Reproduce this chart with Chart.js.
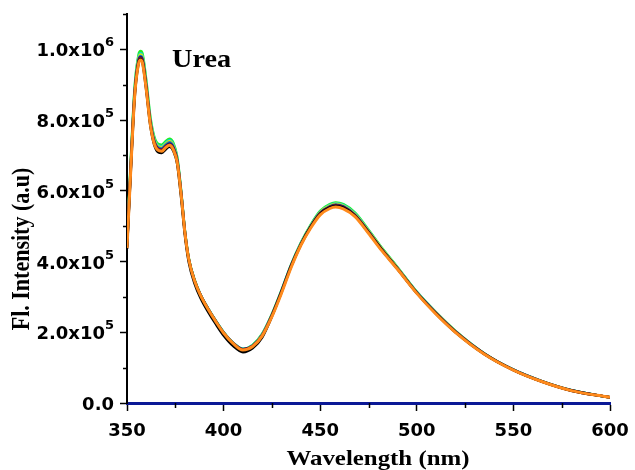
<!DOCTYPE html>
<html>
<head>
<meta charset="utf-8">
<script src="https://cdn.jsdelivr.net/npm/chart.js@4"></script>
<style>
  html, body { margin: 0; padding: 0; background: #ffffff; }
  #wrap { width: 635px; height: 470px; }
</style>
</head>
<body>
<div id="wrap"><canvas id="c" width="635" height="470"></canvas></div>
<script>
// Emission wavelengths (nm)
const wavelengths = [350,352,354,356,357,358,360,362,364,366,
                     368,370,372,374,376,378,380,382,385,388,
                     392,396,400,405,410,415,420,425,430,435,
                     440,445,450,455,458,462,468,475,482,490,
                     500,510,520,535,550,565,580,600];

// Fluorescence intensity of each run, in thousands of counts
const limeRun   = [450,690,895,985,995,988,910,812,755,733, 730,740,747,735,695,600,485,408,348,307, 267,232,200,170,153,164,196,251,319,392, 453,503,543,562,567,562,538,490,438,384, 314,256,204,140,94,61,36,16];
const cyanRun   = [447,684,889,979,989,982,904,806,750,729, 726,736,743,731,691,597,484,407,347,307, 267,232,200,170,153,163,195,250,318,391, 452,501,541,560,565,560,536,488,437,383, 314,255,203,140,94,61,36,16];
const yellowRun = [445,680,885,975,985,978,900,803,747,726, 723,733,740,728,689,596,483,407,347,306, 266,231,199,169,152,162,194,250,317,390, 451,500,540,558,563,558,534,487,436,382, 313,255,203,139,94,61,36,16];
const blueRun   = [443,676,881,971,981,974,896,800,744,723, 720,730,737,725,687,595,482,406,346,306, 266,231,199,169,152,162,193,249,317,390, 450,499,538,556,561,556,532,485,434,381, 312,254,202,139,94,61,36,16];
const navyRun   = [442,673,878,968,978,971,893,797,741,720, 717,727,734,722,685,594,482,406,346,306, 266,231,199,169,152,161,192,248,316,389, 449,498,537,555,560,555,531,484,433,380, 312,254,202,139,94,61,36,16];
const maroonRun = [440,670,875,966,975,968,890,794,738,718, 715,725,731,719,683,592,481,405,345,305, 265,230,198,168,151,161,191,247,315,388, 448,497,536,554,558,553,530,483,433,380, 311,253,201,139,93,60,35,16];
const blackRun  = [436,662,868,962,972,964,884,788,732,710, 707,717,725,713,676,583,474,398,338,298, 258,223,191,161,144,155,186,245,314,387, 448,497,535,553,557,552,529,482,432,379, 311,252,200,138,93,60,35,16];
const orangeRun = [438,665,870,960,970,962,885,790,735,715, 712,722,729,716,680,590,480,405,345,305, 265,230,198,168,150,160,190,244,311,384, 446,494,532,550,554,549,527,480,430,378, 310,251,200,138,93,60,35,16];

// Axis ticks and labels
const xTickValues = [350, 400, 450, 500, 550, 600];
const xMinorTicks = [375, 425, 475, 525, 575];
const yTickValues = [0, 200000, 400000, 600000, 800000, 1000000];
const yTickBase   = ['0.0', '2.0x10', '4.0x10', '6.0x10', '8.0x10', '1.0x10'];
const yTickExp    = ['', '5', '5', '5', '5', '6'];
const yMinorTicks = [100000, 300000, 500000, 700000, 900000, 1100000];

const panelLabel = 'Urea';
const xAxisTitle = 'Wavelength (nm)';
const yAxisTitle = 'Fl. Intensity (a.u)';

// Runs listed from the one drawn at the back to the one drawn in front
const runs = [
  { name: 'run 1', values: limeRun,   color: '#22ee22' },
  { name: 'run 2', values: cyanRun,   color: '#00d8e0' },
  { name: 'run 3', values: yellowRun, color: '#e8e800' },
  { name: 'run 4', values: blueRun,   color: '#1f80b8' },
  { name: 'run 5', values: navyRun,   color: '#1a1a80' },
  { name: 'run 6', values: maroonRun, color: '#8b1010' },
  { name: 'run 7', values: blackRun,  color: '#000000' },
  { name: 'run 8', values: orangeRun, color: '#ff8a1c' }
];

const datasets = runs.map((r, i) => ({
  label: r.name,
  data: wavelengths.map((w, k) => ({ x: w, y: r.values[k] * 1000 })),
  borderColor: r.color,
  borderWidth: i === runs.length - 1 ? 3 : 2.6,
  pointRadius: 0,
  fill: false,
  cubicInterpolationMode: 'monotone',
  order: runs.length - i
}));

const SANS = '"DejaVu Sans", sans-serif';
const SERIF = '"Liberation Serif", "Times New Roman", serif';

// Tick labels, minor ticks, axis titles and the panel label
const annotations = {
  id: 'annotations',
  afterDraw(chart) {
    const ctx = chart.ctx;
    const xs = chart.scales.x, ys = chart.scales.y;
    const left = chart.chartArea.left, bottom = chart.chartArea.bottom;
    ctx.save();

    // minor ticks
    ctx.strokeStyle = '#000';
    ctx.lineWidth = 1.5;
    ctx.beginPath();
    yMinorTicks.forEach(v => {
      const y = Math.round(ys.getPixelForValue(v)) + 0.5;
      ctx.moveTo(left - 4, y); ctx.lineTo(left, y);
    });
    xMinorTicks.forEach(v => {
      const x = Math.round(xs.getPixelForValue(v)) + 0.5;
      ctx.moveTo(x, bottom); ctx.lineTo(x, bottom + 5);
    });
    ctx.stroke();

    ctx.fillStyle = '#000';

    // x tick labels
    ctx.font = 'bold 18px ' + SANS;
    ctx.textAlign = 'center';
    ctx.textBaseline = 'alphabetic';
    xTickValues.forEach(v => {
      ctx.fillText(String(v), xs.getPixelForValue(v), 436);
    });

    // y tick labels with superscript exponent
    const rightEdge = 114;
    yTickValues.forEach((v, i) => {
      const y = ys.getPixelForValue(v);
      ctx.font = 'bold 13px ' + SANS;
      const ew = yTickExp[i] ? ctx.measureText(yTickExp[i]).width : 0;
      ctx.textAlign = 'left';
      if (yTickExp[i]) ctx.fillText(yTickExp[i], rightEdge - ew, y - 3);
      ctx.font = 'bold 18px ' + SANS;
      ctx.textAlign = 'right';
      ctx.fillText(yTickBase[i], rightEdge - ew, y + 7);
    });

    // panel label
    ctx.save();
    ctx.translate(172, 67);
    ctx.scale(1.13, 1);
    ctx.font = 'bold 25px ' + SERIF;
    ctx.textAlign = 'left';
    ctx.fillText(panelLabel, 0, 0);
    ctx.restore();

    // x axis title
    ctx.save();
    ctx.translate(378, 465);
    ctx.scale(1.13, 1);
    ctx.font = 'bold 22px ' + SERIF;
    ctx.textAlign = 'center';
    ctx.fillText(xAxisTitle, 0, 0);
    ctx.restore();

    // y axis title
    ctx.save();
    ctx.translate(29, 249);
    ctx.rotate(-Math.PI / 2);
    ctx.scale(1, 1.13);
    ctx.font = 'bold 22px ' + SERIF;
    ctx.textAlign = 'center';
    ctx.fillText(yAxisTitle, 0, 0);
    ctx.restore();

    ctx.restore();
  }
};

new Chart(document.getElementById('c'), {
  type: 'line',
  data: { datasets },
  options: {
    responsive: false,
    animation: false,
    devicePixelRatio: 1,
    layout: { padding: { top: 14, right: 25, left: 0, bottom: 0 } },
    plugins: { legend: { display: false }, tooltip: { enabled: false } },
    scales: {
      x: {
        type: 'linear',
        min: 350,
        max: 600,
        afterBuildTicks: s => { s.ticks = xTickValues.map(v => ({ value: v })); },
        afterFit: s => { s.height = 67; },
        ticks: { display: false },
        grid: { drawOnChartArea: false, tickLength: 8, tickColor: '#000', tickWidth: 1.5 },
        border: { color: '#0b1896', width: 3 }
      },
      y: {
        type: 'linear',
        min: 0,
        max: 1100000,
        afterBuildTicks: s => { s.ticks = yTickValues.map(v => ({ value: v })); },
        afterFit: s => { s.width = 127; },
        ticks: { display: false },
        grid: { drawOnChartArea: false, tickLength: 7, tickColor: '#000', tickWidth: 1.5 },
        border: { color: '#000', width: 2 }
      }
    }
  },
  plugins: [annotations]
});
</script>
</body>
</html>
